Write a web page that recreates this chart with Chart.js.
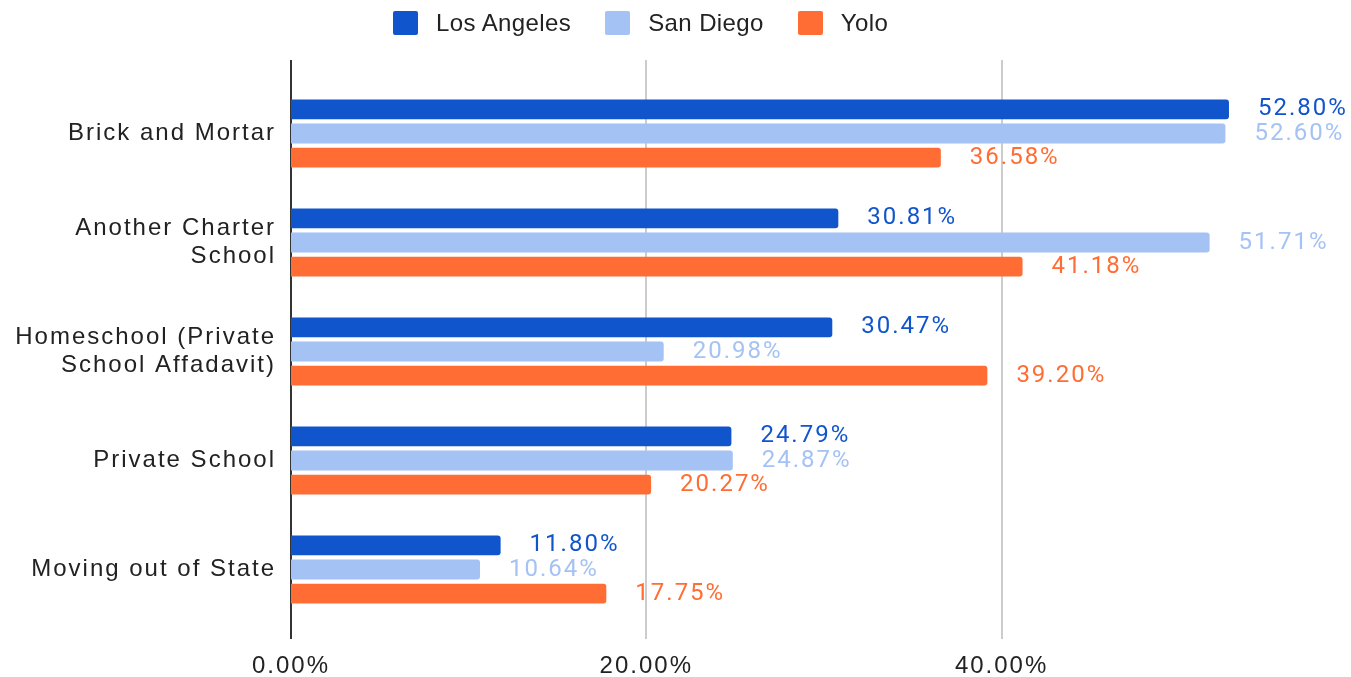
<!DOCTYPE html>
<html>
<head>
<meta charset="utf-8">
<script src="https://cdn.jsdelivr.net/npm/chart.js@4"></script>
<style>
  body { margin: 0; background: #fff; }
  #wrap { position: relative; width: 1351px; height: 677px; }
  #legend {
    position: absolute; top: 9px; left: 393px;
    display: flex; align-items: center;
    font: 24px "Liberation Sans", Arial, sans-serif; letter-spacing: 0.4px; color: #222;
  }
  .item { display: flex; align-items: center; margin-right: 34px; }
  .box { width: 25px; height: 24px; border-radius: 2px; margin-right: 18px; }
</style>
</head>
<body>
<div id="wrap">
  <div id="legend"></div>
  <canvas id="chart"></canvas>
</div>
<script>
const categories = [
  ["Brick and Mortar"],
  ["Another Charter", "School"],
  ["Homeschool (Private", "School Affadavit)"],
  ["Private School"],
  ["Moving out of State"]
];
const seriesNames = ["Los Angeles", "San Diego", "Yolo"];
const losAngeles = [52.80, 30.81, 30.47, 24.79, 11.80];
const sanDiego = [52.60, 51.71, 20.98, 24.87, 10.64];
const yolo = [36.58, 41.18, 39.20, 20.27, 17.75];
const xTicks = [0, 20, 40];

const colors = ["#1155cc", "#a4c2f4", "#ff6d34"];

/* ============ legend ============ */
document.getElementById("legend").innerHTML = seriesNames.map((name, i) => `
  <div class="item"><div class="box" style="background:${colors[i]}"></div>${name}</div>
`).join("");

/* ============ plugins ============ */
const spacing = {
  id: "spacing",
  beforeDraw(chart) {
    chart.ctx.letterSpacing = "2px";
  }
};

// gridlines run a bit past the plot area, like the original
const gridLines = {
  id: "gridLines",
  beforeDatasetsDraw(chart) {
    const { ctx, chartArea, scales: { x } } = chart;
    ctx.save();
    xTicks.forEach(v => {
      const px = Math.round(x.getPixelForValue(v));
      ctx.strokeStyle = v === 0 ? "#333333" : "#cccccc";
      ctx.lineWidth = 2;
      ctx.beginPath();
      ctx.moveTo(px, chartArea.top - 19);
      ctx.lineTo(px, chartArea.bottom + 15);
      ctx.stroke();
    });
    ctx.restore();
  }
};

const barLabels = {
  id: "barLabels",
  afterDatasetsDraw(chart) {
    const ctx = chart.ctx;
    ctx.save();
    ctx.font = "24px Roboto";
    ctx.letterSpacing = "2px";
    ctx.textAlign = "left";
    ctx.textBaseline = "middle";
    chart.data.datasets.forEach((ds, i) => {
      chart.getDatasetMeta(i).data.forEach((bar, j) => {
        ctx.fillStyle = colors[i];
        ctx.fillText(ds.data[j].toFixed(2) + "%", bar.x + 29, bar.y);
      });
    });
    ctx.restore();
  }
};

/* ============ chart ============ */
new Chart(document.getElementById("chart"), {
  type: "bar",
  data: {
    labels: categories,
    datasets: [
      { label: seriesNames[0], data: losAngeles, backgroundColor: colors[0] },
      { label: seriesNames[1], data: sanDiego, backgroundColor: colors[1] },
      { label: seriesNames[2], data: yolo, backgroundColor: colors[2] }
    ]
  },
  options: {
    indexAxis: "y",
    responsive: true,
    maintainAspectRatio: false,
    animation: false,
    datasets: {
      bar: { categoryPercentage: 0.665, barPercentage: 0.818, borderRadius: 3 }
    },
    layout: { padding: { top: 79, right: 3, bottom: -31, left: 0 } },
    plugins: {
      legend: { display: false },
      tooltip: { enabled: false }
    },
    scales: {
      x: {
        min: 0,
        max: 59.5,
        afterBuildTicks: scale => {
          scale.ticks = xTicks.map(v => ({ value: v }));
        },
        grid: { display: false, drawTicks: false },
        border: { display: false },
        ticks: {
          padding: 30,
          color: "#222",
          font: { family: "'Liberation Sans', Arial", size: 24, lineHeight: 1 },
          callback: v => Number(v).toFixed(2) + "%"
        }
      },
      y: {
        afterFit: scale => { scale.width = 291; },
        grid: { display: false, drawTicks: false },
        border: { display: false },
        ticks: {
          padding: 15,
          color: "#222",
          font: { family: "'Liberation Sans', Arial", size: 24, lineHeight: 1.167 }
        }
      }
    }
  },
  plugins: [spacing, gridLines, barLabels]
});
</script>
</body>
</html>
